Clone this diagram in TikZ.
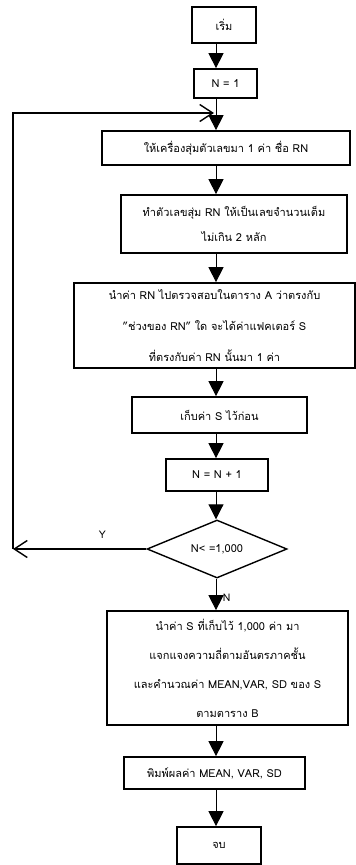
\documentclass[tikz,border=0pt]{standalone}
\usepackage{fontspec}
\setmainfont[Script=Thai]{Loma}
\usetikzlibrary{shapes.geometric,arrows.meta}
\begin{document}
\begin{tikzpicture}[x=1pt,y=-1pt,
  box/.style={draw,line width=1.7pt,align=center,inner sep=2pt,font=\fontsize{11}{28}\selectfont},
  dec/.style={draw,diamond,line width=1.4pt,inner sep=0pt,aspect=2.4,font=\fontsize{11}{13}\selectfont},
  flow/.style={line width=0.9pt,-{Triangle[length=15pt,width=15pt]}},
  back/.style={line width=1.4pt,-{Straight Barb[length=13pt,width=17pt,line width=1.4pt]}},
  lbl/.style={font=\fontsize{10.5}{12}\selectfont}]
\useasboundingbox (0,0) rectangle (356,865);
\coordinate (col) at (216,0);
\node[box,minimum width=64pt,minimum height=36pt] (start) at (224,25) {เริ่ม};
\node[box,minimum width=63pt,minimum height=29pt] (n1) at (225.5,83.5) {N = 1};
\node[box,minimum width=248pt,minimum height=34pt] (b3) at (226,148) {ให้เครื่องสุ่มตัวเลขมา 1 ค่า ชื่อ RN};
\node[box,minimum width=226pt,minimum height=58pt,font=\fontsize{11}{25}\selectfont] (b4) at (234,224) {ทำตัวเลขสุ่ม RN ให้เป็นเลขจำนวนเต็ม\\ไม่เกิน 2 หลัก};
\node[box,minimum width=281pt,minimum height=85pt,font=\fontsize{11}{31}\selectfont] (b5) at (214.5,325.5) {นำค่า RN ไปตรวจสอบในตาราง A ว่าตรงกับ\\"ช่วงของ RN" ใด จะได้ค่าแฟคเตอร์ S\\ที่ตรงกับค่า RN นั้นมา 1 ค่า};
\node[box,minimum width=175pt,minimum height=36pt] (b6) at (219.5,415) {เก็บค่า S ไว้ก่อน};
\node[box,minimum width=102pt,minimum height=32pt] (b7) at (217,475) {N = N + 1};
\node[dec,minimum width=140pt,minimum height=58pt] (dia) at (217,549) {N< =1,000};
\node[box,minimum width=241pt,minimum height=114pt,font=\fontsize{11}{29}\selectfont] (b8) at (227.5,668) {นำค่า S ที่เก็บไว้ 1,000 ค่า มา\\แจกแจงความถี่ตามอันตรภาคชั้น\\และคำนวณค่า MEAN,VAR, SD ของ S\\ตามตาราง B};
\node[box,minimum width=181pt,minimum height=32pt] (b9) at (214.5,773) {พิมพ์ผลค่า MEAN, VAR, SD};
\node[box,minimum width=84pt,minimum height=37pt] (end) at (219,845.5) {จบ};
\coordinate (loopL) at (13,113);
\coordinate (loopR) at (214,113);
\coordinate (yL) at (13,549);
\draw[flow] (start.south -| col) -- (n1.north -| col);
\draw[flow] (n1.south -| col) -- (b3.north -| col);
\draw[flow] (b3.south -| col) -- (b4.north -| col);
\draw[flow] (b4.south -| col) -- (b5.north -| col);
\draw[flow] (b5.south -| col) -- (b6.north -| col);
\draw[flow] (b6.south -| col) -- (b7.north -| col);
\draw[flow] (b7.south -| col) -- (dia.north -| col);
\draw[flow] (dia.south -| col) -- node[lbl,right=3pt,pos=0.6] {N} (b8.north -| col);
\draw[flow] (b8.south -| col) -- (b9.north -| col);
\draw[flow] (b9.south -| col) -- (end.north -| col);
\draw[back] (dia.west) -- node[lbl,above=6pt,pos=0.33] {Y} (yL);
\draw[back] (yL) -- (loopL) -- (loopR);
\end{tikzpicture}
\end{document}
